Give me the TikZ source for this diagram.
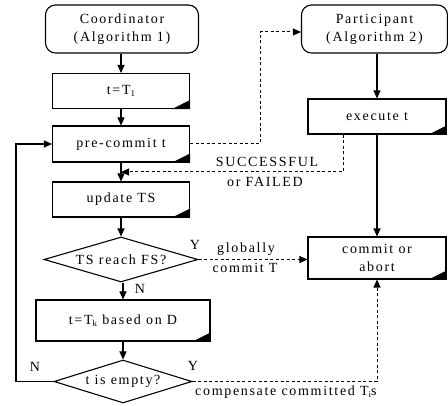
\documentclass[tikz,border=0pt]{standalone}
\usepackage{fontspec}
\setmainfont{Liberation Serif}[LetterSpace=12]
\usetikzlibrary{shapes.geometric,arrows.meta,calc}
\newcommand{\sbs}[1]{\raisebox{-2.5pt}{\fontsize{9}{10}\selectfont #1}}
\tikzset{
  base/.style={font=\fontsize{14}{18}\selectfont, inner sep=0pt, align=center},
  stepbox/.style={base, draw, line width=1.1pt, rectangle},
  startbox/.style={base, draw, line width=1.1pt, rectangle, rounded corners=10pt},
  decision/.style={base, draw, line width=1.1pt, diamond},
  lbl/.style={base},
  arr/.style={line width=1.1pt, -{Triangle[length=8pt,width=7pt]}},
  darr/.style={line width=1pt, dash pattern=on 3pt off 2.5pt, -{Triangle[length=8pt,width=7pt]}},
  dline/.style={line width=1pt, dash pattern=on 3pt off 2.5pt},
}
\newcommand{\cornermark}[1]{\fill (#1.south east) -- ++(0,-9) -- ++(-18,9) -- cycle;}
\begin{document}
\begin{tikzpicture}[x=1pt,y=-1pt]
\useasboundingbox (0,0) rectangle (448,406);
% left column
\node[startbox, minimum width=153pt, minimum height=48pt] (coord) at (122,29) {Coordinator\\(Algorithm 1)};
\node[stepbox, minimum width=137pt, minimum height=35pt] (t1) at (121,91) {t=T\sbs{1}};
\node[stepbox, minimum width=137pt, minimum height=36pt] (pre) at (121,144) {pre-commit t};
\node[stepbox, minimum width=137pt, minimum height=35pt] (upd) at (121,199.5) {update TS};
\node[decision, minimum width=154pt, minimum height=45pt, aspect=3.4] (ts) at (121,259.5) {TS reach FS?};
\node[stepbox, minimum width=174pt, minimum height=41pt] (tk) at (123,320.5) {t=T\sbs{k} based on D};
\node[decision, minimum width=138pt, minimum height=43pt, aspect=3.2] (empty) at (123,381.5) {t is empty?};
% right column
\node[startbox, minimum width=146pt, minimum height=48pt] (part) at (374.5,29) {Participant\\(Algorithm 2)};
\node[stepbox, minimum width=138pt, minimum height=35pt] (exec) at (377,116.5) {execute t};
\node[stepbox, minimum width=138pt, minimum height=42pt] (comm) at (377,258) {commit or\\abort};
% corner marks
\cornermark{t1}
\cornermark{pre}
\cornermark{upd}
\cornermark{tk}
\cornermark{exec}
\cornermark{comm}
% solid arrows
\draw[arr] (coord.south -| t1.north) -- (t1.north);
\draw[arr] (t1) -- (pre);
\draw[arr] (pre) -- (upd);
\draw[arr] (upd.south) -- (ts.north -| upd.south);
\draw[arr] (ts.south -| tk.north) -- (tk.north);
\draw[arr] (tk) -- (empty);
\coordinate (lp) at (16,381.5);
\draw[arr] (empty.west) -- (lp) |- (pre.west);
\draw[arr] (part.south -| exec.north) -- (exec.north);
\draw[arr] (exec) -- (comm);
% dashed connectors
\coordinate (d1) at (260,32);
\draw[darr] (pre.east) -| (d1) -- (d1 -| part.west);
\coordinate (d2) at (343,172);
\draw[darr] (exec.south -| d2) -- (d2) -- (d2 -| pre.south);
\draw[darr] (ts.east) -- (ts.east -| comm.west);
\draw[darr] (empty.east) -| (comm.south);
% labels
\node[lbl] (succ) at (267,162) {SUCCESSFUL};
\node[lbl] (fail) at (265,182) {or FAILED};
\node[lbl] (glob) at (246,249) {globally};
\node[lbl] (cT) at (245,268) {commit T};
\node[lbl] (y1) at (195,245) {Y};
\node[lbl] (n1) at (140,289) {N};
\node[lbl] (n2) at (35,367) {N};
\node[lbl] (y2) at (193,366) {Y};
\node[lbl, anchor=west] (comp) at (195,392) {compensate committed T\sbs{i}s};
\end{tikzpicture}
\end{document}
